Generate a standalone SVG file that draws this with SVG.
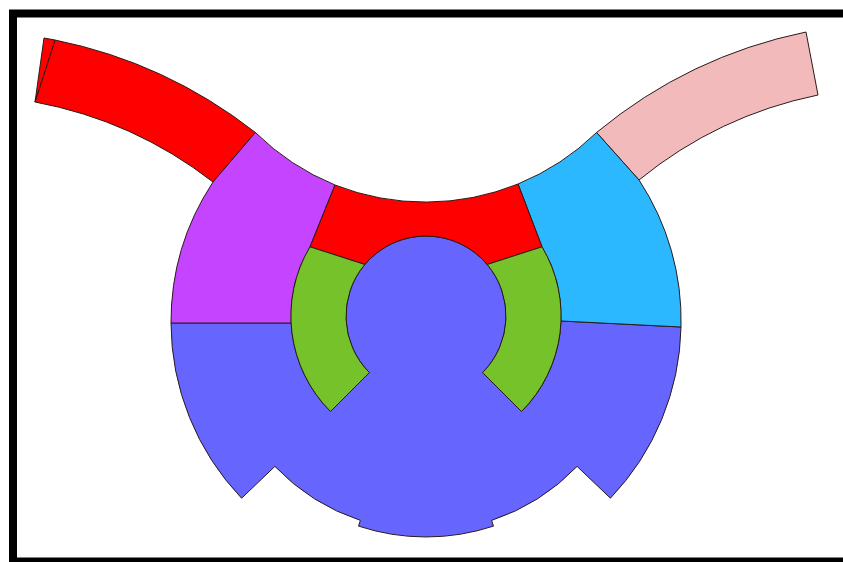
<svg xmlns="http://www.w3.org/2000/svg" width="843" height="562" viewBox="0 0 843 562">
<style>
.p{stroke:#2a1a1a;stroke-width:1;stroke-linejoin:round}
.red{fill:#FF0000}
.pink{fill:#F2BABA}
.purple{fill:#C444FF}
.cyan{fill:#2BB8FF}
.green{fill:#76C22A}
.blue{fill:#6666FF}
</style>
<rect x="0" y="0" width="843" height="562" fill="#fff"/>
<rect x="13" y="13.5" width="850" height="548" fill="none" stroke="#000" stroke-width="8"/>
<g id="left-arm">
<path class="p red" d="M255.4,132.5 A480,480 0 0 0 55,40 L35,102 A415,415 0 0 1 213,182 Z"/>
<path class="p red" d="M55,40 L44,38 L35,102 Z"/>
</g>
<g id="right-arm">
<path class="p pink" d="M596.6,132.5 A480,480 0 0 1 806,32 L818,95 A415,415 0 0 0 639,180 Z"/>
</g>
<g id="blue-body">
<path class="p blue" d="M291.2,323 L171,323 A255,255 0 0 0 241.6,498.2 L274.9,466.4 A209,209 0 0 0 360.4,520.4 L358.5,526.1 A215,215 0 0 0 493.5,526.1 L491.6,520.4 A209,209 0 0 0 577.1,466.4 L610.4,498.2 A255,255 0 0 0 681,327 L561,321 A135,135 0 0 1 521.5,411.5 L482.6,372.6 A80,80 0 1 0 369.4,372.6 L330.5,411.5 A135,135 0 0 1 291.2,323 Z"/>
</g>
<g id="purple-sector">
<path class="p purple" d="M255.4,132.5 L213,182 A255,255 0 0 0 171,323 L291.2,323 A135,135 0 0 1 310,246.8 L335,185 A247,247 0 0 1 255.4,132.5 Z"/>
</g>
<g id="cyan-sector">
<path class="p cyan" d="M518,184 A247,247 0 0 0 596.6,132.5 L639,180 A255,255 0 0 1 681,327 L561,321 A135,135 0 0 0 542,246.8 Z"/>
</g>
<g id="red-middle">
<path class="p red" d="M335,185 A247,247 0 0 0 518,184 L542,246.8 L487.2,264.5 A80,80 0 0 0 364.8,264.5 L310,246.8 Z"/>
</g>
<g id="green-left">
<path class="p green" d="M310,246.8 A135,135 0 0 0 330.5,411.5 L369.4,372.6 A80,80 0 0 1 364.8,264.5 Z"/>
</g>
<g id="green-right">
<path class="p green" d="M542,246.8 A135,135 0 0 1 521.5,411.5 L482.6,372.6 A80,80 0 0 0 487.2,264.5 Z"/>
</g>
</svg>
